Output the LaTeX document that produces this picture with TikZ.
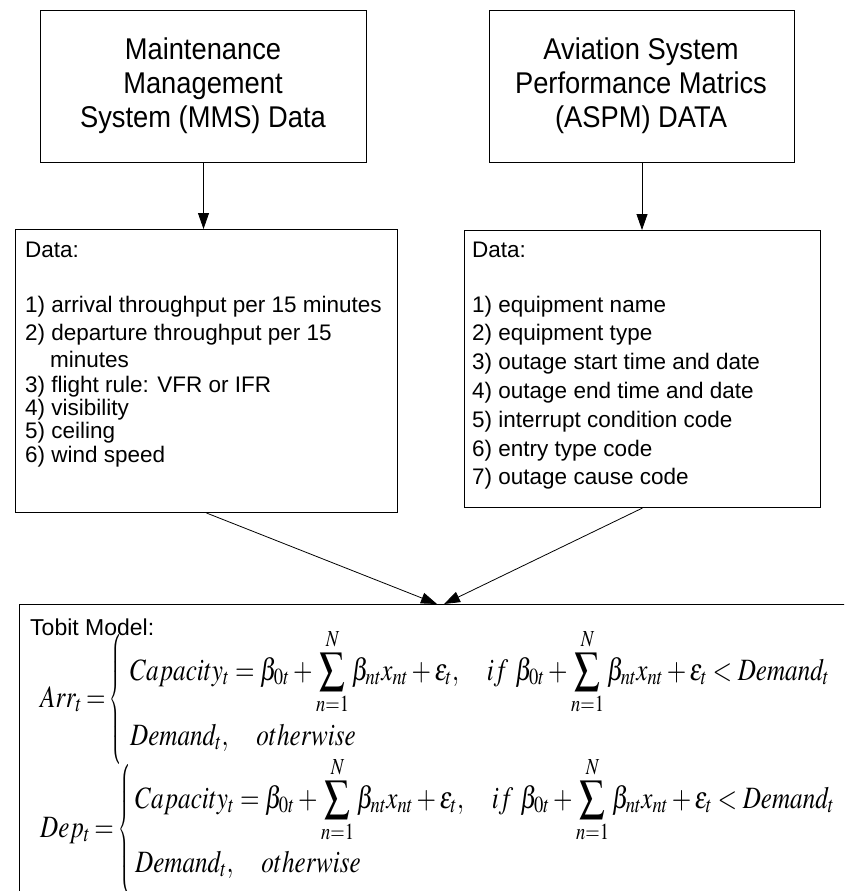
\documentclass[tikz,border=0pt]{standalone}
\usepackage{amsmath}
\usepackage{mathptmx}
\usepackage[no-math]{fontspec}
\setmainfont{Liberation Sans}
\usetikzlibrary{arrows.meta,calc}
\newcommand{\bigbrace}{\delimiterfactor=1000 \delimitershortfall=0pt
  \left\{\rule[-51.25pt]{0pt}{118pt}\right.\kern-\nulldelimiterspace}
\newcommand{\caprow}{\displaystyle Capacity_t=\beta_{0t}+\sum_{n=1}^{N}\beta_{nt}x_{nt}+\varepsilon_t,\quad if\ \beta_{0t}+\sum_{n=1}^{N}\beta_{nt}x_{nt}+\varepsilon_t<Demand_t}
\newcommand{\demrow}{Demand_t,\quad otherwise}
\begin{document}
\begin{tikzpicture}[x=1pt,y=-1pt,
  box/.style={draw, line width=1pt, inner sep=0pt},
  arr/.style={-{Triangle[length=16pt,width=11pt]}, line width=0.8pt},
  title/.style={font=\fontsize{30}{34}\selectfont, inner sep=0pt},
  txt/.style={font=\fontsize{22.5}{28}\selectfont, anchor=north west, inner sep=0pt},
  txtr/.style={font=\fontsize{22.5}{28.8}\selectfont, anchor=north west, inner sep=0pt},
  eq/.style={font=\fontsize{31}{37}\selectfont, anchor=base west, inner sep=0pt}]
\useasboundingbox (0,0) rectangle (844,891);
\clip (0,0) rectangle (844,891);

% boxes
\node[box, minimum width=326pt, minimum height=152pt, anchor=north west] (mms) at (40,10) {};
\node[box, minimum width=305pt, minimum height=152pt, anchor=north west] (aspm) at (489,10) {};
\node[box, minimum width=382pt, minimum height=283pt, anchor=north west] (datal) at (15,229) {};
\node[box, minimum width=356pt, minimum height=277pt, anchor=north west] (datar) at (464,230) {};
\node[box, minimum width=900pt, minimum height=400pt, anchor=north west] (tobit) at (19,604) {};

% titles
\node[title] (mmst) at (203,87) {\scalebox{0.91}[1]{\begin{tabular}{@{}c@{}}Maintenance\\Management\\System (MMS) Data\end{tabular}}};
\node[title] (aspmt) at (641,87) {\scalebox{0.91}[1]{\begin{tabular}{@{}c@{}}Aviation System\\Performance Matrics\\(ASPM) DATA\end{tabular}}};

% data lists
\node[txt] (dl) at (25,237.4) {\begin{tabular}{@{}l@{}}Data:\\[27pt]
1) arrival throughput per 15 minutes\\
2) departure throughput per 15\\[-1pt]
\hspace*{25pt}minutes\\[-3pt]
3) flight rule: VFR or IFR\\[-5pt]
4) visibility\\[-5pt]
5) ceiling\\[-4pt]
6) wind speed\end{tabular}};
\node[txtr] (dr) at (472,236.8) {\begin{tabular}{@{}l@{}}Data:\\[26.2pt]
1) equipment name\\
2) equipment type\\
3) outage start time and date\\
4) outage end time and date\\
5) interrupt condition code\\
6) entry type code\\
7) outage cause code\end{tabular}};

% model
\node[txt, font=\fontsize{23}{28}\selectfont, anchor=base west] (tm) at (30,635) {Tobit Model:};
\node[eq] (arrlhs) at (40,707) {\scalebox{0.81}[1]{$Arr_t\mkern-1mu=\mkern3mu$}\scalebox{0.45}[1]{$\bigbrace$}};
\node[eq] (arrcap) at (130,680) {\scalebox{0.81}[1]{$\caprow$}};
\node[eq] (arrdem) at (130,745) {\scalebox{0.81}[1]{$\demrow$}};
\node[eq] (deplhs) at (40,837) {\scalebox{0.81}[1]{$Dep_t\mkern-1mu=\mkern3mu$}\scalebox{0.45}[1]{$\bigbrace$}};
\node[eq] (depcap) at (135,808) {\scalebox{0.81}[1]{$\caprow$}};
\node[eq] (depdem) at (135,872) {\scalebox{0.81}[1]{$\demrow$}};

% connectors
\coordinate (tipL) at ($(tobit.north west)+(418,0)$);
\coordinate (tipR) at ($(tobit.north west)+(425,0)$);
\draw[arr] (mms.south) -- (mms.south |- datal.north);
\draw[arr] (aspm.south) -- (aspm.south |- datar.north);
\draw[arr] (datal.south) -- (tipL);
\draw[arr] (datar.south) -- (tipR);
\end{tikzpicture}
\end{document}
